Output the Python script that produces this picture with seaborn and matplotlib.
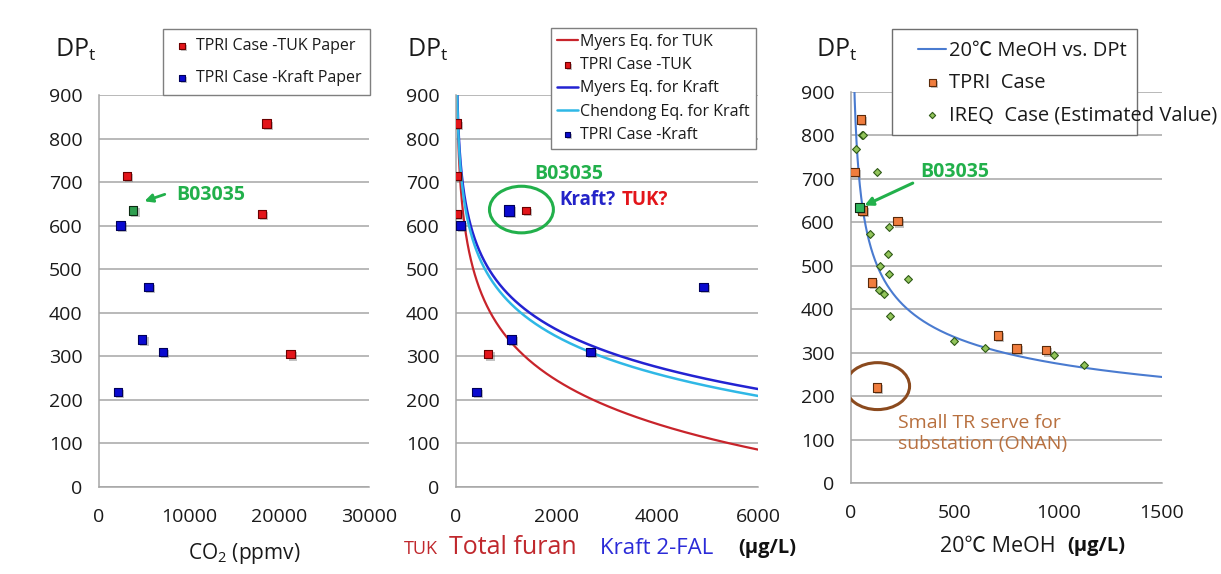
'''
DPt vs CO2 / furan / methanol - three panel comparison
'''

import numpy as np
import seaborn as sns
import matplotlib.pyplot as plt
import matplotlib.patheffects as pe
from matplotlib.patches import Ellipse, Rectangle

# ---- data ----
# TPRI cases (same transformers in every panel)
dp_tuk = [834, 714, 627, 305]
dp_kraft = [601, 459, 339, 310, 218]
dp_b03035 = 635

# panel 1: CO2 (ppmv)
co2_tuk = [18600, 3100, 18100, 21300]
co2_kraft = [2400, 5500, 4800, 7100, 2100]
co2_b03035 = 3800

# panel 2: total furan (TUK) / 2-FAL (Kraft), ug/L
furan_tuk = [20, 20, 20, 640]
fal_kraft = [90, 4920, 1100, 2670, 410]
furan_b03035 = 1390
fal_b03035 = 1050

# panel 3: 20C methanol, ug/L
meoh_tpri = [48, 17, 56, 225, 101, 709, 797, 940, 125]
dp_tpri = [836, 716, 627, 603, 461, 339, 310, 306, 220]
meoh_b03035 = 42
meoh_ireq = [53, 60, 26, 125, 181, 90, 178, 138, 185, 273, 133, 157, 190, 495, 648, 977, 1124]
dp_ireq = [801, 801, 769, 716, 589, 573, 527, 500, 482, 470, 444, 435, 384, 328, 310, 294, 271]

# equation coefficients
MYERS_KRAFT = dict(a=4.51, f=0.88, k=0.0035)   # DP = (a - log10(f*FAL)) / k
MYERS_TUK = dict(a=4.51, f=2.98, k=0.0030)     # DP = (a - log10(f*TF)) / k
CHENDONG = dict(a=1.51, k=0.0035)              # DP = (a - log10(FAL[ppm])) / k
MEOH_FIT = dict(A=2035, n=0.29)                # DP = A * MeOH^-n

W, H = 1221, 574

sns.set_theme(style="white")
plt.rcParams['font.family'] = ['Open Sans', 'Noto Sans CJK JP', 'DejaVu Sans']
plt.rcParams['mathtext.default'] = 'regular'

RED, RED_E = '#e3151a', '#6b0000'
BLUE, BLUE_E = '#0a0ad0', '#00005a'
GREEN_TXT = '#22b04b'
GRID = '#a6a6a6'
TXT = '#1a1a1a'
shadow = [pe.SimplePatchShadow(offset=(1.5, -1.5), alpha=0.35, shadow_rgbFace='#555555'), pe.Normal()]


def fx(px):
    return px / W


def fy(py):
    return 1 - py / H


def make_ax(x0, x1, y_top, y_bot):
    ax = fig.add_axes([fx(x0), fy(y_bot), (x1 - x0) / W, (y_bot - y_top) / H])
    ax.set_facecolor('none')
    ax.set_ylim(0, 900)
    ax.set_yticks(range(0, 901, 100))
    ax.set_axisbelow(True)
    ax.yaxis.grid(True, color=GRID, linewidth=1.1)
    ax.xaxis.grid(False)
    sns.despine(ax=ax)
    for s in ['left', 'bottom']:
        ax.spines[s].set_color(GRID)
        ax.spines[s].set_linewidth(1.1)
    ax.tick_params(axis='both', length=4, width=1.1, color=GRID, direction='out',
                   labelsize=14, labelcolor=TXT)
    ax.tick_params(axis='y', pad=8)
    ax.tick_params(axis='x', pad=11)
    ax.set_xlabel('')
    ax.set_ylabel('')
    return ax


def squares(ax, x, y, color, edge, s=38, label=None):
    sns.scatterplot(x=x, y=y, marker='s', s=s, color=color, edgecolor=edge, linewidth=0.8,
                    ax=ax, zorder=4, label=label, legend=False, path_effects=shadow)


fig = plt.figure(figsize=(W / 100, H / 100), dpi=100)
fig.patch.set_facecolor('white')

# ---------------- panel 1: CO2 ----------------
ax1 = make_ax(99, 369, 95, 487)
squares(ax1, co2_tuk, dp_tuk, RED, RED_E, label='TPRI Case -TUK Paper')
squares(ax1, co2_kraft, dp_kraft, BLUE, BLUE_E, label='TPRI Case -Kraft Paper')
squares(ax1, [co2_b03035], [dp_b03035], '#2e9e4f', '#0b2a12')
ax1.set_xlim(0, 30000)
ax1.set_xticks([0, 10000, 20000, 30000])
ax1.annotate('', xy=(4750, 654), xytext=(7600, 674),
             arrowprops=dict(arrowstyle='-|>', color=GREEN_TXT, lw=2, mutation_scale=12))
ax1.text(8600, 670, 'B03035', color=GREEN_TXT, fontsize=14, fontweight='bold', va='center')
leg1 = ax1.legend(loc='upper left', bbox_to_anchor=(fx(163), fy(29)), bbox_transform=fig.transFigure,
                  borderaxespad=0, fontsize=11.5, markerscale=0.7, handletextpad=0.2, handlelength=1.3,
                  labelspacing=1.0, borderpad=0.55, fancybox=False, edgecolor='#7f7f7f',
                  framealpha=1, labelcolor=TXT)
leg1.get_frame().set_linewidth(1.0)
fig.text(fx(55), fy(50), 'DP$_\\mathregular{t}$', fontsize=18, va='center', ha='left', color=TXT)
fig.text(fx(244), fy(553), 'CO$_\\mathregular{2}$ (ppmv)', fontsize=15, ha='center', va='center', color=TXT)

# ---------------- panel 2: furan ----------------
ax2 = make_ax(456, 758, 95, 487)
x_fur = np.geomspace(1, 6000, 600)
y_myers_tuk = (MYERS_TUK['a'] - np.log10(MYERS_TUK['f'] * x_fur)) / MYERS_TUK['k']
y_myers_kraft = (MYERS_KRAFT['a'] - np.log10(MYERS_KRAFT['f'] * x_fur)) / MYERS_KRAFT['k']
y_chendong = (CHENDONG['a'] - np.log10(x_fur / 1000)) / CHENDONG['k']

sns.lineplot(x=x_fur, y=y_myers_tuk, color='#c8242b', linewidth=1.6, ax=ax2, label='Myers Eq. for TUK')
squares(ax2, furan_tuk, dp_tuk, RED, RED_E, label='TPRI Case -TUK')
sns.lineplot(x=x_fur, y=y_myers_kraft, color='#2323d2', linewidth=1.8, ax=ax2, label='Myers Eq. for Kraft')
sns.lineplot(x=x_fur, y=y_chendong, color='#2fb8e6', linewidth=1.8, ax=ax2, label='Chendong Eq. for Kraft')
squares(ax2, fal_kraft, dp_kraft, BLUE, BLUE_E, label='TPRI Case -Kraft')
squares(ax2, [fal_b03035], [dp_b03035], BLUE, BLUE_E, s=55)
squares(ax2, [furan_b03035], [dp_b03035], RED, RED_E, s=30)
ax2.set_xlim(0, 6000)
ax2.set_xticks([0, 2000, 4000, 6000])
ax2.add_patch(Ellipse((1300, 637), 1270, 107, fill=False, edgecolor='#22b04b', linewidth=2.2, zorder=5))
ax2.text(1560, 718, 'B03035', color=GREEN_TXT, fontsize=14, fontweight='bold', va='center')
ax2.text(2060, 659, 'Kraft?', color='#2323c8', fontsize=13.5, fontweight='bold', va='center')
ax2.text(3290, 659, 'TUK?', color='#e3151a', fontsize=13.5, fontweight='bold', va='center')
leg2 = ax2.legend(loc='upper left', bbox_to_anchor=(fx(551), fy(28)), bbox_transform=fig.transFigure,
                  borderaxespad=0, fontsize=11.5, markerscale=0.65, handlelength=1.3, handletextpad=0.15,
                  labelspacing=0.45, borderpad=0.38, fancybox=False, edgecolor='#7f7f7f',
                  framealpha=1, labelcolor=TXT)
leg2.get_frame().set_linewidth(1.0)
fig.text(fx(407), fy(50), 'DP$_\\mathregular{t}$', fontsize=18, va='center', ha='left', color=TXT)
fig.text(fx(404), fy(549), 'TUK', color='#c0282d', fontsize=13, va='center', ha='left')
fig.text(fx(449), fy(548), 'Total furan', color='#c0282d', fontsize=18, va='center', ha='left')
fig.text(fx(600), fy(548), 'Kraft 2-FAL', color='#2b2bd8', fontsize=16, va='center', ha='left')
fig.text(fx(738), fy(548), '(\u03bcg/L)', color='#111111', fontsize=14.5, fontweight='bold',
         va='center', ha='left')

# ---------------- panel 3: methanol ----------------
ax3 = make_ax(851, 1162, 92, 483)
x_me = np.geomspace(5, 1500, 500)
y_me = MEOH_FIT['A'] * x_me ** (-MEOH_FIT['n'])
sns.lineplot(x=x_me, y=y_me, color='#4a7bd0', linewidth=1.5, ax=ax3, label='20\u2103 MeOH vs. DPt')
squares(ax3, meoh_tpri, dp_tpri, '#f07d3e', '#5a2a0a', s=40, label='TPRI  Case')
sns.scatterplot(x=meoh_ireq, y=dp_ireq, marker='D', s=16, color='#92c45a', edgecolor='#2f5a17',
                linewidth=0.8, ax=ax3, zorder=4, label='IREQ  Case (Estimated Value)', legend=False)
squares(ax3, [meoh_b03035], [dp_b03035], '#2fb55a', '#0b2a12', s=40)
ax3.set_xlim(0, 1500)
ax3.set_xticks([0, 500, 1000, 1500])
ax3.annotate('', xy=(53, 636), xytext=(310, 693),
             arrowprops=dict(arrowstyle='-|>', color=GREEN_TXT, lw=2.2, mutation_scale=12))
ax3.text(334, 716, 'B03035', color=GREEN_TXT, fontsize=14, fontweight='bold', va='center')
ax3.add_patch(Ellipse((128, 223), 309, 108, fill=False, edgecolor='#8b4a1e', linewidth=2.2, zorder=5))
ax3.text(227, 114, 'Small TR serve for\nsubstation (ONAN)', color='#b8703f', fontsize=14,
         va='center', ha='left', linespacing=1.15)
ax3.add_patch(Rectangle((fx(892), fy(135)), (1137 - 892) / W, (135 - 29) / H, transform=fig.transFigure,
                        facecolor='white', edgecolor='#6f6f6f', linewidth=1.0, zorder=5.5, clip_on=False))
leg3 = ax3.legend(loc='upper left', bbox_to_anchor=(fx(918), fy(41)), bbox_transform=fig.transFigure,
                  borderaxespad=0, fontsize=14.5, markerscale=0.8, handlelength=1.4, handletextpad=0.12,
                  labelspacing=0.6, borderpad=0, frameon=False, labelcolor=TXT)
leg3.set_zorder(6)
fig.text(fx(816), fy(50), 'DP$_\\mathregular{t}$', fontsize=18, va='center', ha='left', color=TXT)
fig.text(fx(940), fy(547), '20\u2103 MeOH', color=TXT, fontsize=15.5, va='center', ha='left')
fig.text(fx(1067), fy(546), '(\u03bcg/L)', color='#111111', fontsize=14.5, fontweight='bold',
         va='center', ha='left')

plt.savefig('out.png', dpi=100, facecolor='white')
plt.close()
